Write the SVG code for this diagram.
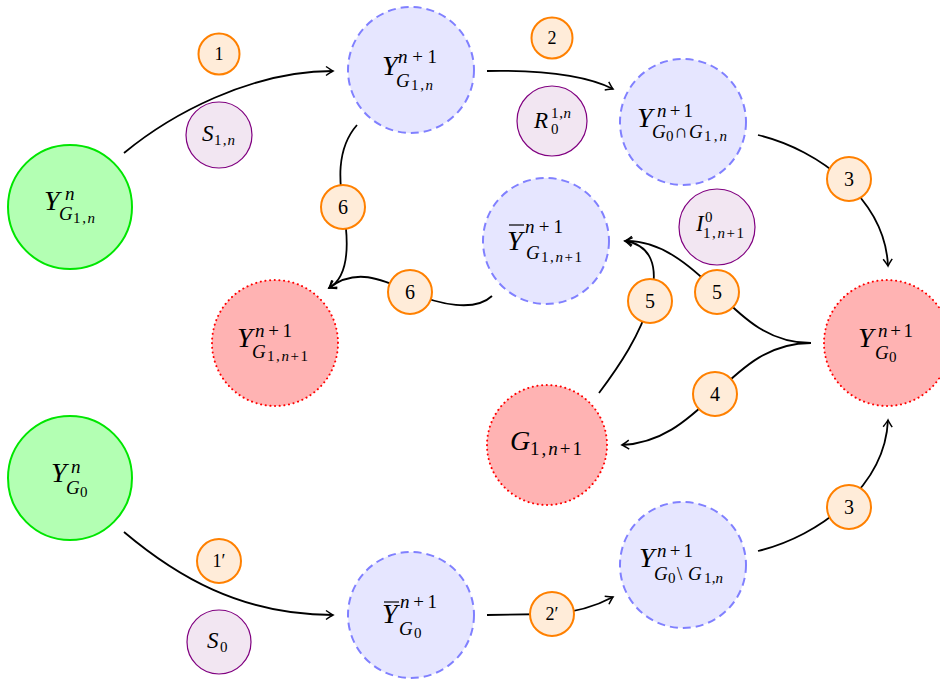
<svg xmlns="http://www.w3.org/2000/svg" width="940" height="680" viewBox="0 0 940 680">
<defs>
<style>
.t{font-family:"Liberation Serif","DejaVu Serif",serif;fill:#000}
.L{font-size:28px;font-style:italic}
.s1{font-size:19px}
.s2{font-size:15px}
.i{font-style:italic}
.P{font-size:23px;font-style:italic}
.o{font-size:20px;text-anchor:middle}
.os{font-size:18px;text-anchor:middle}
.green{fill:#b3ffb3;stroke:#00e600;stroke-width:2}
.blue{fill:#e6e6ff;stroke:#8080ff;stroke-width:2;stroke-dasharray:8 5}
.red{fill:#ffb3b3;stroke:#ff0000;stroke-width:2;stroke-dasharray:0.1 4.6;stroke-linecap:round}
.purp{fill:#f2e6f2;stroke:#800080;stroke-width:1.2}
.lab{fill:#ffecd9;stroke:#ff8000;stroke-width:2}
.e{fill:none;stroke:#000;stroke-width:1.8}
.bar{stroke:#000;stroke-width:1.2}
</style>
<marker id="ah" viewBox="-9 -6 11 12" refX="0" refY="0" markerWidth="11" markerHeight="12" orient="auto" markerUnits="userSpaceOnUse">
<path d="M-7,-4.5 Q-2,-1 0,0 Q-2,1 -7,4.5" fill="none" stroke="#000" stroke-width="1.5"/>
</marker>
</defs>
<rect width="940" height="680" fill="#fff"/>

<g id="connectors">
<path class="e" d="M124,153 C170,115 250,71 333,71" marker-end="url(#ah)"/>
<path class="e" d="M487,71 C540,70 585,75 613,89" marker-end="url(#ah)"/>
<path class="e" d="M758,135 C820,150 885,200 888,266" marker-end="url(#ah)"/>
<path class="e" d="M758,551 C820,536 885,486 888,420" marker-end="url(#ah)"/>
<path class="e" d="M357,125 C335,150 340,185 343,207 C348,235 352,275 329,288" marker-end="url(#ah)"/>
<path class="e" d="M492,296 C475,312 440,305 410,292 C380,278 355,268 329,288" marker-end="url(#ah)"/>
<path class="e" d="M811,343 C770,343 745,320 717,292 C690,265 660,240 625,241" marker-end="url(#ah)"/>
<path class="e" d="M599,393 C620,365 640,335 650,301 C660,265 650,245 625,241" marker-end="url(#ah)"/>
<path class="e" d="M811,343 C770,343 745,365 715,394 C685,423 660,443 622,445" marker-end="url(#ah)"/>
<path class="e" d="M124,532 C175,575 240,615 333,615" marker-end="url(#ah)"/>
<path class="e" d="M487,615 L552,614 C580,612 598,605 613,597" marker-end="url(#ah)"/>
</g>

<g id="Yn_G1n">
<circle class="green" cx="70" cy="207" r="62"/>
<text class="t L" x="44" y="210">Y</text>
<text class="t s1 i" x="65" y="200">n</text>
<text class="t s1 i" x="59" y="220">G</text>
<text class="t s2" x="73" y="223" textLength="22" lengthAdjust="spacing">1,<tspan class="i">n</tspan></text>
</g>

<g id="Yn1_G1n">
<circle class="blue" cx="411" cy="70" r="63"/>
<text class="t L" x="382" y="75">Y</text>
<text class="t s1" x="398" y="63" textLength="39" lengthAdjust="spacing"><tspan class="i">n</tspan>+1</text>
<text class="t s1 i" x="396" y="87">G</text>
<text class="t s2" x="411" y="90" textLength="22" lengthAdjust="spacing">1,<tspan class="i">n</tspan></text>
</g>

<g id="Yn1_G0capG1n">
<circle class="blue" cx="683" cy="122" r="63"/>
<text class="t L" x="637" y="127">Y</text>
<text class="t s1" x="657" y="117" textLength="36" lengthAdjust="spacing"><tspan class="i">n</tspan>+1</text>
<text class="t s1 i" x="652" y="138">G</text>
<text class="t s2" x="666" y="141">0</text>
<text class="t s1" x="674" y="138">∩</text>
<text class="t s1 i" x="689" y="138">G</text>
<text class="t s2" x="704" y="141" textLength="23" lengthAdjust="spacing">1,<tspan class="i">n</tspan></text>
</g>

<g id="Ybar_G1n1">
<circle class="blue" cx="546" cy="241" r="63"/>
<line class="bar" x1="509" y1="225" x2="524" y2="225"/>
<text class="t L" x="507" y="250">Y</text>
<text class="t s1" x="525" y="233" textLength="38" lengthAdjust="spacing"><tspan class="i">n</tspan>+1</text>
<text class="t s1 i" x="526" y="259">G</text>
<text class="t s2" x="541" y="262" textLength="41" lengthAdjust="spacing">1,<tspan class="i">n</tspan>+1</text>
</g>

<g id="Yn1_G1n1">
<circle class="red" cx="275" cy="343" r="63"/>
<text class="t L" x="237" y="347">Y</text>
<text class="t s1" x="255" y="337" textLength="37" lengthAdjust="spacing"><tspan class="i">n</tspan>+1</text>
<text class="t s1 i" x="252" y="358">G</text>
<text class="t s2" x="267" y="361" textLength="41" lengthAdjust="spacing">1,<tspan class="i">n</tspan>+1</text>
</g>

<g id="G1n1">
<circle class="red" cx="547" cy="445" r="60"/>
<text class="t L" x="510" y="450">G</text>
<text class="t s1" x="530" y="455" textLength="52" lengthAdjust="spacing">1,<tspan class="i">n</tspan>+1</text>
</g>

<g id="Yn1_G0">
<circle class="red" cx="887" cy="343" r="63"/>
<text class="t L" x="858" y="347">Y</text>
<text class="t s1" x="878" y="337" textLength="35" lengthAdjust="spacing"><tspan class="i">n</tspan>+1</text>
<text class="t s1 i" x="875" y="359">G</text>
<text class="t s2" x="889" y="362">0</text>
</g>

<g id="Yn_G0">
<circle class="green" cx="70" cy="478" r="62"/>
<text class="t L" x="51" y="482">Y</text>
<text class="t s1 i" x="71" y="473">n</text>
<text class="t s1 i" x="66" y="494">G</text>
<text class="t s2" x="80" y="497">0</text>
</g>

<g id="Ybar_G0">
<circle class="blue" cx="411" cy="615" r="63"/>
<line class="bar" x1="384" y1="602" x2="399" y2="602"/>
<text class="t L" x="382" y="623">Y</text>
<text class="t s1" x="400" y="608" textLength="37" lengthAdjust="spacing"><tspan class="i">n</tspan>+1</text>
<text class="t s1 i" x="399" y="635">G</text>
<text class="t s2" x="414" y="638">0</text>
</g>

<g id="Yn1_G0minusG1n">
<circle class="blue" cx="683" cy="565" r="63"/>
<text class="t L" x="639" y="567">Y</text>
<text class="t s1" x="657" y="557" textLength="36" lengthAdjust="spacing"><tspan class="i">n</tspan>+1</text>
<text class="t s1 i" x="654" y="580">G</text>
<text class="t s2" x="668" y="583">0</text>
<text class="t s1" x="677" y="580">\</text>
<text class="t s1 i" x="688" y="580">G</text>
<text class="t s2" x="704" y="583" textLength="19" lengthAdjust="spacing">1,<tspan class="i">n</tspan></text>
</g>

<g id="S_1n">
<circle class="purp" cx="219" cy="135" r="33"/>
<text class="t P" x="202" y="141">S</text>
<text class="t s2" x="214" y="145" textLength="21" lengthAdjust="spacing">1,<tspan class="i">n</tspan></text>
</g>

<g id="R0_1n">
<circle class="purp" cx="552" cy="121" r="35"/>
<text class="t P" x="534" y="128">R</text>
<text class="t s2" x="551" y="118" textLength="20" lengthAdjust="spacing">1,<tspan class="i">n</tspan></text>
<text class="t s2" x="551" y="134">0</text>
</g>

<g id="I0_1n1">
<circle class="purp" cx="717" cy="227" r="38"/>
<text class="t P" x="696" y="231">I</text>
<text class="t s2" x="705" y="222">0</text>
<text class="t s2" x="703" y="238" textLength="41" lengthAdjust="spacing">1,<tspan class="i">n</tspan>+1</text>
</g>

<g id="S_0">
<circle class="purp" cx="219" cy="642" r="32"/>
<text class="t P" x="207" y="648">S</text>
<text class="t s2" x="220" y="652">0</text>
</g>

<g id="lab1"><circle class="lab" cx="219" cy="54" r="20.5"/><text class="t os" x="219" y="60">1</text></g>
<g id="lab2"><circle class="lab" cx="552" cy="38" r="20.5"/><text class="t os" x="552" y="44">2</text></g>
<g id="lab3a"><circle class="lab" cx="849" cy="179" r="22"/><text class="t o" x="849" y="186">3</text></g>
<g id="lab6a"><circle class="lab" cx="343" cy="207" r="22"/><text class="t o" x="343" y="214">6</text></g>
<g id="lab6b"><circle class="lab" cx="410" cy="292" r="22"/><text class="t o" x="410" y="299">6</text></g>
<g id="lab5a"><circle class="lab" cx="650" cy="301" r="22"/><text class="t o" x="650" y="308">5</text></g>
<g id="lab5b"><circle class="lab" cx="717" cy="292" r="22"/><text class="t o" x="717" y="299">5</text></g>
<g id="lab4"><circle class="lab" cx="715" cy="394" r="22"/><text class="t o" x="715" y="401">4</text></g>
<g id="lab3b"><circle class="lab" cx="849" cy="507" r="22"/><text class="t o" x="849" y="514">3</text></g>
<g id="lab1p"><circle class="lab" cx="219" cy="561" r="22"/><text class="t os" x="219" y="567">1′</text></g>
<g id="lab2p"><circle class="lab" cx="552" cy="614" r="22"/><text class="t os" x="552" y="620">2′</text></g>
</svg>
